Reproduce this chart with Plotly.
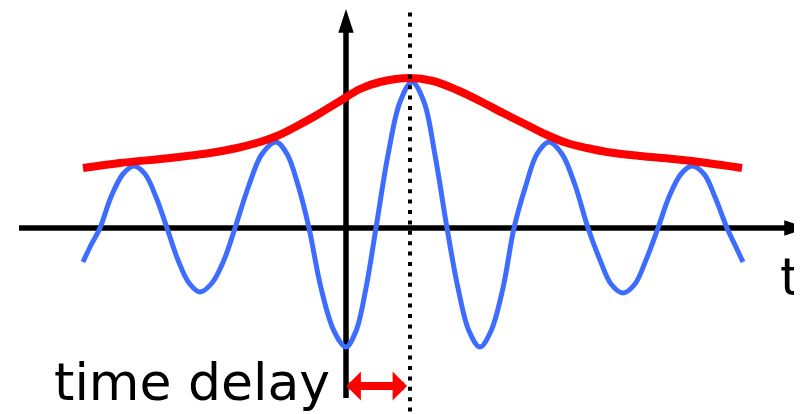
import plotly.graph_objects as go

# --- data (t relative to the vertical axis, amplitude relative to the t axis) ---
wave_t = [-263, -255, -246, -235, -223, -212, -201, -190, -179, -168, -157, -146, -134, -122,
          -111, -97, -84, -70, -59, -48, -37, -25, -12, 0, 10, 20, 30, 42, 54, 66, 78, 89,
          101, 112, 123, 134, 145, 157, 168, 180, 191, 203, 216, 229, 242, 254, 265, 277,
          289, 300, 312, 323, 335, 346, 358, 369, 381, 389, 397]
wave_amp = [-34, -17, 0, 31, 54, 62, 54, 31, 0, -32, -55, -64, -55, -32,
            0, 43, 74, 86, 74, 43, 0, -60, -103, -119, -103, -60, 0, 73, 126, 146, 126, 73,
            0, -60, -103, -119, -103, -60, 0, 43, 74, 86, 74, 43, 0, -32, -56, -65,
            -56, -32, 0, 31, 54, 62, 54, 31, 0, -17, -34]

env_t = [-263, -226, -176, -136, -109, -86, -69, -49, -29, -6, 14, 34, 64, 87, 111, 134,
         157, 181, 201, 221, 241, 261, 294, 327, 361, 396]
env_amp = [60, 65, 70, 75, 80, 86, 92, 102, 113, 127, 139, 146, 150, 147, 138, 127,
           115, 103, 93, 85, 80, 76, 72, 69, 65, 60]

delay = 64          # position of the dotted line (envelope peak)
# the page body has an 8px margin, so the ranges are offset to keep the sketch in place
x_range = [-338, 464]
y_range = [-194, 220]

fig = go.Figure()

# --- Carrier wave and envelope ---
fig.add_trace(go.Scatter(x=wave_t, y=wave_amp, mode='lines',
                         line=dict(color='#3d6dff', width=5, shape='spline', smoothing=1.0),
                         hoverinfo='skip'))
fig.add_trace(go.Scatter(x=env_t, y=env_amp, mode='lines',
                         line=dict(color='#ff0000', width=8, shape='spline', smoothing=1.0),
                         hoverinfo='skip'))

# --- Axes drawn as lines ---
fig.add_shape(type='line', x0=-327, x1=450, y0=0, y1=0, layer='below',
              line=dict(color='black', width=5.5))
fig.add_shape(type='line', x0=0, x1=0, y0=-170, y1=205, layer='below',
              line=dict(color='black', width=5.5))
fig.add_shape(type='line', x0=delay, x1=delay, y0=y_range[0], y1=220, layer='above',
              line=dict(color='black', width=4, dash='4px,6.4px'))

# axis arrow heads (narrow arrow markers, tip sits on the point)
fig.add_trace(go.Scatter(x=[0, 462], y=[219, 0], mode='markers', hoverinfo='skip',
                         cliponaxis=False,
                         marker=dict(symbol='arrow', size=25, angle=[0, 90], color='black',
                                     line=dict(width=0))))

# time delay double arrow
fig.add_annotation(x=61, y=-158, ax=-1, ay=-158, xref='x', yref='y', axref='x', ayref='y',
                   text='', showarrow=True, arrowside='end+start',
                   arrowhead=1, startarrowhead=1, arrowsize=0.6, startarrowsize=0.6,
                   arrowwidth=8, arrowcolor='#ff0000')

# --- Labels ---
fig.add_annotation(x=-294, y=-154, xref='x', yref='y', text='time delay', showarrow=False,
                   xanchor='left', yanchor='middle',
                   font=dict(family='DejaVu Sans', size=52, color='black'))
fig.add_annotation(x=432, y=-49, xref='x', yref='y', text='t', showarrow=False,
                   xanchor='left', yanchor='middle',
                   font=dict(family='DejaVu Sans', size=52, color='black'))

fig.update_layout(
    width=802, height=414,
    margin=dict(l=0, r=0, t=0, b=0),
    paper_bgcolor='white', plot_bgcolor='white',
    showlegend=False,
    xaxis=dict(range=x_range, visible=False, fixedrange=True),
    yaxis=dict(range=y_range, visible=False, fixedrange=True),
)

fig.write_html("out.html")
